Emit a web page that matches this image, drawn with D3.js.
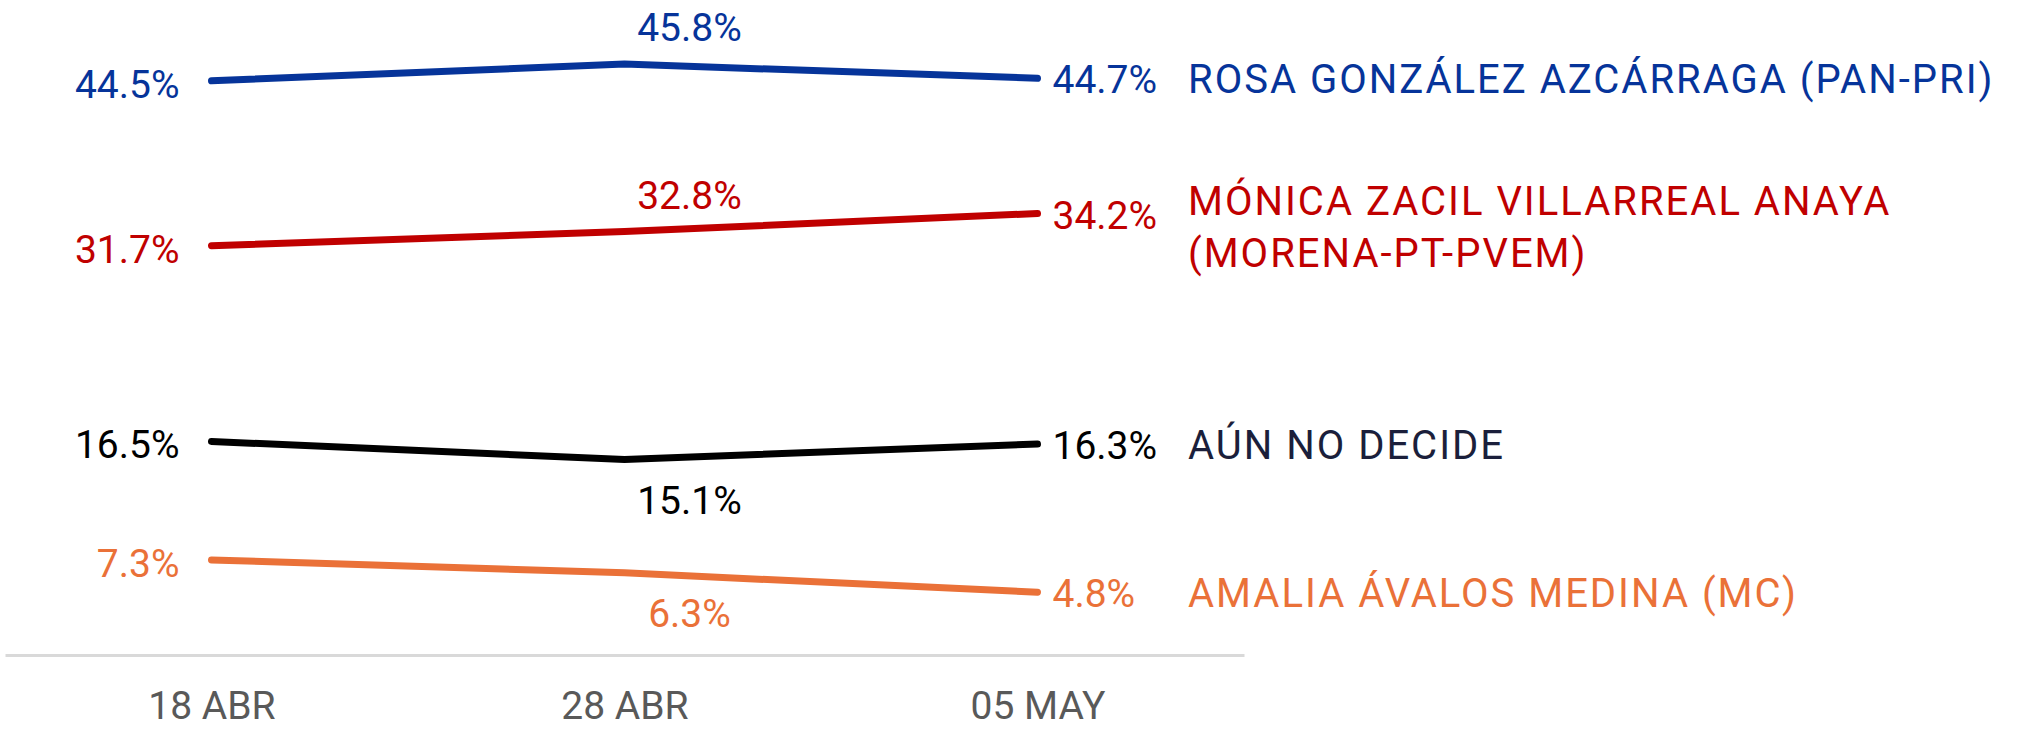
<!DOCTYPE html>
<html lang="es">
<head>
<meta charset="utf-8">
<title>Preferencia electoral</title>
<script src="https://d3js.org/d3.v7.min.js"></script>
<style>
  body { margin: 0; background: #ffffff; }
  svg { display: block; font-family: Roboto, "Open Sans", sans-serif; }
</style>
</head>
<body>
<svg id="chart" width="2021" height="729"></svg>
<script>
// fechas de levantamiento
var dates = ["18 ABR", "28 ABR", "05 MAY"]

// series (porcentaje)
var rosa     = [44.5, 45.8, 44.7]
var monica   = [31.7, 32.8, 34.2]
var noDecide = [16.5, 15.1, 16.3]
var amalia   = [7.3, 6.3, 4.8]

var names = [
  ["ROSA GONZÁLEZ AZCÁRRAGA (PAN-PRI)"],
  ["MÓNICA ZACIL VILLARREAL ANAYA", "(MORENA-PT-PVEM)"],
  ["AÚN NO DECIDE"],
  ["AMALIA ÁVALOS MEDINA (MC)"]
]
var lineColors = ["#06349a", "#c00000", "#000000", "#ea7138"]
var nameColors = ["#06349a", "#c00000", "#1b1f3b", "#ea7138"]

var series = [rosa, monica, noDecide, amalia].map(function(values, i) {
  return { values: values, name: names[i], color: lineColors[i], nameColor: nameColors[i] }
})

var fontSize = 39
var fmt = d3.format(".1f")

var svg = d3.select("#chart")

var x = d3.scalePoint()
  .domain(dates)
  .range([5, 1244])
  .padding(0.5)

var y = d3.scaleLinear()
  .domain([0, 50])
  .range([654, 10])

// eje x
var xAxis = svg.append("g")
  .attr("transform", "translate(0,655)")
  .call(d3.axisBottom(x).tickSize(0).tickSizeOuter(0).tickPadding(36))

xAxis.select(".domain")
  .attr("stroke", "#d9d9d9")
  .attr("stroke-width", 3)
xAxis.selectAll("text")
  .attr("fill", "#595959")
  .style("font-size", fontSize + "px")
  .style("font-family", "Roboto, sans-serif")

var line = d3.line()
  .x(function(d, i) { return x(dates[i]) })
  .y(function(d) { return y(d) })

// lineas
svg.append("g")
  .selectAll("path")
  .data(series)
  .join("path")
    .attr("fill", "none")
    .attr("stroke", function(d) { return d.color })
    .attr("stroke-width", 7)
    .attr("stroke-linecap", "round")
    .attr("stroke-linejoin", "round")
    .attr("d", function(d) { return line(d.values) })

var labels = svg.append("g").style("font-size", fontSize + "px")

series.forEach(function(s) {
  var v = s.values
  // primer punto
  labels.append("text")
    .attr("x", x(dates[0]) - 32)
    .attr("y", y(v[0]) + 17)
    .attr("text-anchor", "end")
    .attr("fill", s.color)
    .text(fmt(v[0]) + "%")

  // punto central: arriba si sube, abajo si baja
  var above = v[1] >= v[0]
  labels.append("text")
    .attr("x", x(dates[1]) + 65)
    .attr("y", above ? y(v[1]) - 23 : y(v[1]) + 54)
    .attr("text-anchor", "middle")
    .attr("fill", s.color)
    .text(fmt(v[1]) + "%")

  // ultimo punto
  labels.append("text")
    .attr("x", x(dates[2]) + 15)
    .attr("y", y(v[2]) + 15)
    .attr("text-anchor", "start")
    .attr("fill", s.color)
    .text(fmt(v[2]) + "%")

  // nombre
  var t = labels.append("text")
    .attr("x", 1188)
    .attr("y", y(v[2]) + 15 - (s.name.length - 1) * 14)
    .attr("fill", s.nameColor)
    .style("font-size", "40px")
    .style("letter-spacing", "2px")
  t.selectAll("tspan")
    .data(s.name)
    .join("tspan")
      .attr("x", 1188)
      .attr("dy", function(d, i) { return i === 0 ? 0 : 52 })
      .text(function(d) { return d })
})
</script>
</body>
</html>
